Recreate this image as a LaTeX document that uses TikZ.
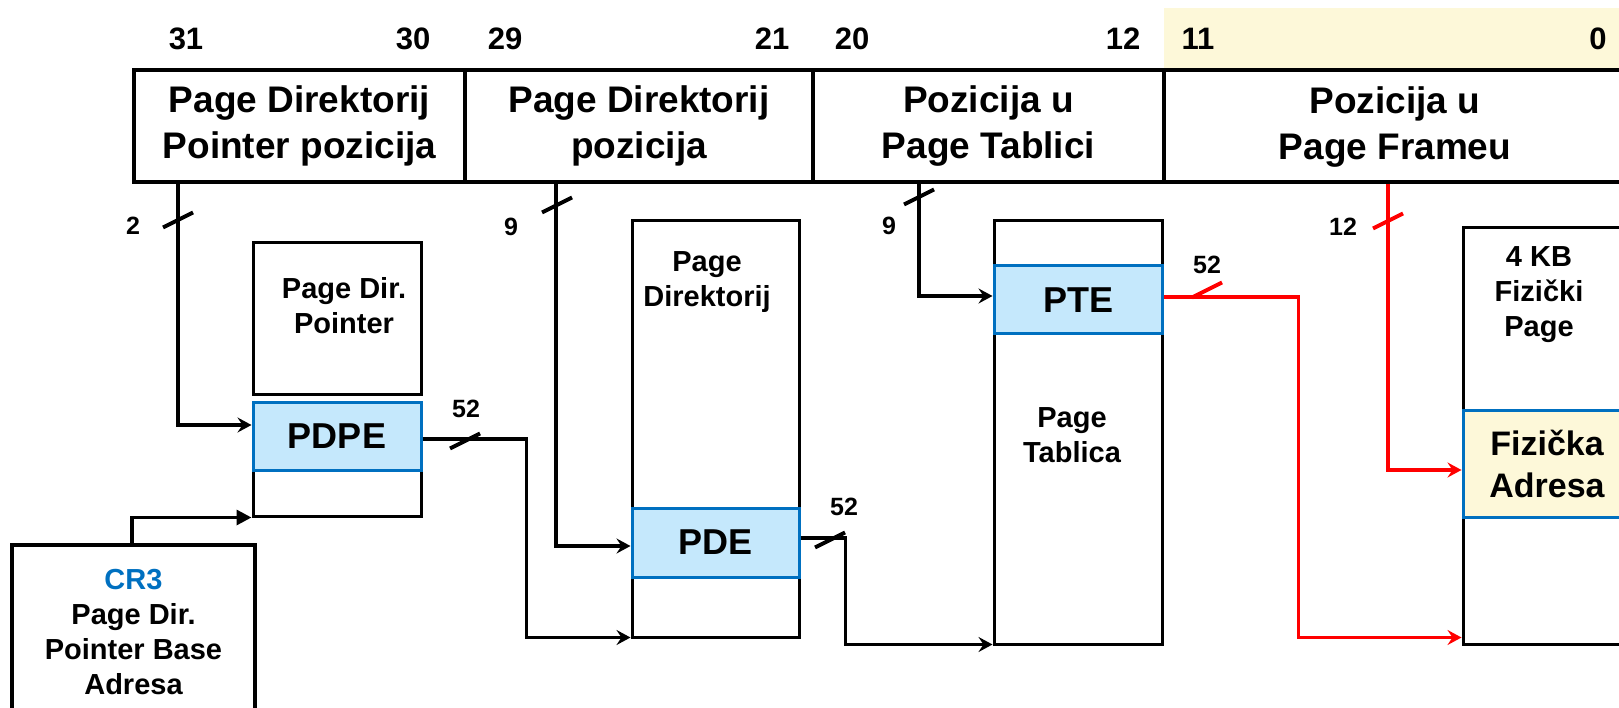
\documentclass[tikz,border=0pt]{standalone}
\usepackage{fontspec}
\setmainfont{Liberation Sans}
\usetikzlibrary{arrows.meta}
\definecolor{slotblue}{RGB}{197,232,252}
\definecolor{edgeblue}{RGB}{0,112,192}
\definecolor{paleyellow}{RGB}{253,248,217}
\newcommand\hdrfont{\fontsize{37}{46}\selectfont\bfseries}
\newcommand\bitfont{\fontsize{31}{36}\selectfont\bfseries}
\newcommand\lblfont{\fontsize{29}{35}\selectfont\bfseries}
\newcommand\entfont{\fontsize{36}{42}\selectfont\bfseries}
\newcommand\fafont{\fontsize{34}{42}\selectfont\bfseries}
\newcommand\crfont{\fontsize{29}{35}\selectfont\bfseries}
\newcommand\numfont{\fontsize{25}{30}\selectfont\bfseries}
\begin{document}
\begin{tikzpicture}[x=1pt,y=-1pt,
    field/.style={draw,line width=4pt,inner sep=0pt,minimum height=112pt,align=center,font=\hdrfont},
    tablebox/.style={draw,line width=3pt,inner sep=0pt,minimum width=168pt},
    slot/.style={tablebox,draw=edgeblue,fill=slotblue,font=\entfont},
    wire/.style={line width=3.3pt,-{Stealth[length=14pt,width=15pt,inset=5pt]}},
    hot/.style={wire,red},
    slash/.style={line width=4pt},
    bit/.style={font=\bitfont},
    num/.style={font=\numfont},
    txt/.style={align=center,font=\lblfont}]
  \useasboundingbox (0,0) rectangle (1619,708);
  \fill[paleyellow] (1164,8) rectangle (1640,70);
  \foreach \n/\x in {31/186,30/413,29/505,21/772,20/852,12/1123,11/1198,0/1598}
    \node[bit] (bit\n) at (\x,39) {\n};

  \node[field,minimum width=331pt] (hpdp) at (299.5,126) {Page Direktorij\\Pointer pozicija};
  \node[field,minimum width=348pt] (hpd) at (639,126) {Page Direktorij\\pozicija};
  \node[field,minimum width=351pt] (hpt) at (988.5,126) {Pozicija u\\Page Tablici};
  \node[field,minimum width=566pt] (hoff) at (1447,126) {};
  \node[font=\hdrfont,align=center] (hofftxt) at (1395,127) {Pozicija u\\Page Frameu};

  \node[tablebox,minimum height=151pt] (pdptop) at (337,318.5) {};
  \node[tablebox,minimum height=46pt] (pdpbot) at (337,493) {};
  \node[slot,minimum height=68pt] (pdpe) at (337,436) {PDPE};
  \node[txt] (pdptxt) at (344,305.5) {Page Dir.\\Pointer};

  \node[tablebox,minimum width=167pt,minimum height=416pt] (pd) at (715.5,429) {};
  \node[slot,minimum width=167pt,minimum height=69pt] (pde) at (715.5,542.5) {PDE};
  \node[txt] (pdtxt) at (707,282.5) {Page\\Direktorij};

  \node[tablebox,minimum height=423pt] (pt) at (1078,432.5) {};
  \node[slot,minimum height=68pt] (pte) at (1078,300) {PTE};
  \node[txt] (pttxt) at (1072,435.5) {Page\\Tablica};

  \node[tablebox,minimum width=237pt,minimum height=416pt] (page) at (1581.5,436) {};
  \node[slot,fill=paleyellow,minimum width=237pt,minimum height=107pt] (pa) at (1581.5,463.5) {};
  \node[font=\fafont,align=center] (patxt) at (1547,464) {Fizička\\Adresa};
  \node[txt] (pagetxt) at (1539,294.5) {4 KB\\Fizički\\Page};

  \node[draw,line width=4pt,minimum width=243pt,minimum height=175pt,align=center,font=\crfont] (cr3) at (133.5,632.5)
    {{\color{edgeblue}CR3}\\Page Dir.\\Pointer Base\\Adresa};

  \draw[wire] (hpdp.south -| 178,0) |- ([yshift=11pt]pdpe.west);
  \draw[wire,-{Triangle[length=15pt,width=15pt]}] (cr3.north -| 132,0) |- (pdpbot.south west);
  \draw[wire] ([yshift=-3pt]pdpe.east) -- ++(104,0) |- ([yshift=1pt]pd.south west);
  \draw[wire] (hpd.south -| 556,0) |- ([yshift=-3.5pt]pde.west);
  \draw[wire] ([yshift=4.5pt]pde.east) -- ++(45,0) |- ([yshift=1pt]pt.south west);
  \draw[wire] (hpt.south -| 919,0) |- ([yshift=4pt]pte.west);
  \draw[hot] ([yshift=3pt]pte.east) -- ++(135,0) |- ([yshift=8pt]page.south west);
  \draw[hot] (hoff.south -| 1388,0) |- ([yshift=-6.5pt]pa.west);

  \foreach \x/\y in {178/220,557/205,919/197,465/441,830/540}
    \draw[slash] (\x,\y) ++(-15,7.5) -- ++(30,-15);
  \foreach \x/\y in {1388/221,1207/290}
    \draw[slash,red] (\x,\y) ++(-15,7.5) -- ++(30,-15);

  \node[num] (w2) at (133,226) {2};
  \node[num] (w9a) at (511,227) {9};
  \node[num] (w9b) at (889,226) {9};
  \node[num] (w12) at (1343,227) {12};
  \node[num] (w52a) at (466,409) {52};
  \node[num] (w52b) at (844,507) {52};
  \node[num] (w52c) at (1207,265) {52};
\end{tikzpicture}
\end{document}
